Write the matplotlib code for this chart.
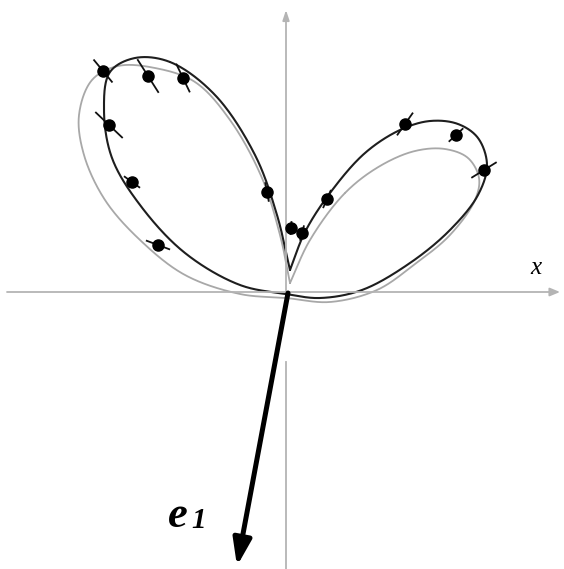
import numpy as np
import matplotlib
matplotlib.use("Agg")
import matplotlib.pyplot as plt

# Scale: 1 unit = 100 px, origin at the pole of the polar diagram
def P(px, py):
    return ((px - 286) / 100.0, (293 - py) / 100.0)

# Measured points (x, y) with radial uncertainty (half length)
meas_x = [-1.83, -1.38, -1.03, -1.77, -1.54, -1.28, -0.19, 0.05, 0.16, 0.41, 1.19, 1.70, 1.98]
meas_y = [2.22, 2.17, 2.15, 1.68, 1.11, 0.48, 1.01, 0.65, 0.60, 0.94, 1.69, 1.58, 1.23]
meas_err = [0.14, 0.19, 0.15, 0.18, 0.09, 0.12, 0.09, 0.06, 0.07, 0.09, 0.13, 0.09, 0.14]

# Fitted angular distribution (dark), traced from the cusp round both lobes
fit_x = [0.04, -0.09, -0.31, -0.71, -1.16, -1.51, -1.76, -1.82, -1.74, -1.46, -1.01, -0.46,
         0.00, 0.34, 0.76, 1.24, 1.64, 1.92, 2.01, 1.92, 1.72, 1.44, 1.14, 0.79, 0.44,
         0.19, 0.04]
fit_y = [0.23, 0.78, 1.38, 1.98, 2.31, 2.35, 2.21, 1.83, 1.35, 0.88, 0.40, 0.08,
         -0.01, -0.05, 0.03, 0.30, 0.63, 0.98, 1.28, 1.55, 1.69, 1.72, 1.63, 1.40, 1.00,
         0.61, 0.23]

# Model prediction (light)
model_x = [0.04, -0.06, -0.24, -0.56, -0.91, -1.31, -1.68, -1.94, -2.07, -2.02, -1.81, -1.46,
           -1.01, -0.46, 0.00, 0.44, 0.91, 1.29, 1.64, 1.89, 1.93, 1.82, 1.59, 1.29, 0.94,
           0.59, 0.24, 0.04]
model_y = [0.10, 0.58, 1.15, 1.73, 2.11, 2.25, 2.27, 2.13, 1.78, 1.38, 0.93, 0.53,
           0.18, -0.01, -0.05, -0.09, 0.03, 0.29, 0.58, 0.93, 1.15, 1.35, 1.44, 1.42, 1.27,
           1.00, 0.53, 0.10]


def catmull_rom(xs, ys, n=40):
    pts = np.column_stack([xs, ys]).astype(float)
    pts = np.vstack([2 * pts[0] - pts[1], pts, 2 * pts[-1] - pts[-2]])
    out = []
    for i in range(1, len(pts) - 2):
        p0, p1, p2, p3 = pts[i - 1], pts[i], pts[i + 1], pts[i + 2]
        t0 = 0.0
        t1 = t0 + np.linalg.norm(p1 - p0) ** 0.5
        t2 = t1 + np.linalg.norm(p2 - p1) ** 0.5
        t3 = t2 + np.linalg.norm(p3 - p2) ** 0.5
        t = np.linspace(t1, t2, n)[:, None]
        a1 = (t1 - t) / (t1 - t0) * p0 + (t - t0) / (t1 - t0) * p1
        a2 = (t2 - t) / (t2 - t1) * p1 + (t - t1) / (t2 - t1) * p2
        a3 = (t3 - t) / (t3 - t2) * p2 + (t - t2) / (t3 - t2) * p3
        b1 = (t2 - t) / (t2 - t0) * a1 + (t - t0) / (t2 - t0) * a2
        b2 = (t3 - t) / (t3 - t1) * a2 + (t - t1) / (t3 - t1) * a3
        c = (t2 - t) / (t2 - t1) * b1 + (t - t1) / (t2 - t1) * b2
        out.append(c)
    c = np.vstack(out)
    return c[:, 0], c[:, 1]


fig = plt.figure(figsize=(5.64, 5.69), dpi=100)
ax = fig.add_axes([0, 0, 1, 1])
ax.set_xlim(-2.86, 2.78)
ax.set_ylim(-2.76, 2.93)
ax.set_aspect("equal")
ax.axis("off")

axis_col = "#b4b4b4"
# horizontal axis with arrow
ax.annotate("", xy=P(560, 292), xytext=P(7, 292),
            arrowprops=dict(arrowstyle="-|>,head_length=0.6,head_width=0.25",
                            color=axis_col, lw=1.3, shrinkA=0, shrinkB=0))
# vertical axis: upper part with arrow, lower part below the gap
ax.annotate("", xy=P(286, 10), xytext=P(286, 292),
            arrowprops=dict(arrowstyle="-|>,head_length=0.6,head_width=0.2",
                            color=axis_col, lw=1.3, shrinkA=0, shrinkB=0))
x0, y0 = P(286, 362)
x1, y1 = P(286, 569)
ax.plot([x0, x1], [y0, y1], color=axis_col, lw=1.3)

# curves
mx, my = catmull_rom(model_x, model_y)
ax.plot(mx, my, color="#a8a8a8", lw=1.3, solid_capstyle="round")
fx, fy = catmull_rom(fit_x, fit_y)
ax.plot(fx, fy, color="#1e1e1e", lw=1.5, solid_capstyle="round")

# radial error bars and points
for x, y, e in zip(meas_x, meas_y, meas_err):
    r = np.hypot(x, y)
    ux, uy = x / r, y / r
    ax.plot([x - e * ux, x + e * ux], [y - e * uy, y + e * uy], color="#111111", lw=1.3)
ax.plot(meas_x, meas_y, "o", color="#000000", ms=8, zorder=5)

# principal direction e1
ax.annotate("", xy=P(237, 566), xytext=P(288, 293),
            arrowprops=dict(arrowstyle="-|>,head_length=1.6,head_width=0.55",
                            color="black", lw=3.6, shrinkA=0, shrinkB=0))

ax.text(*P(536, 268), "x", fontsize=18, family="Liberation Serif", style="italic",
        ha="center", va="center")
ax.text(*P(178, 516), "e", fontsize=32, family="Liberation Serif", style="italic",
        weight="bold", ha="center", va="center")
ax.text(*P(199, 521), "1", fontsize=21, family="Liberation Serif", style="italic",
        weight="bold", ha="center", va="center")

fig.savefig("out.png", dpi=100)
